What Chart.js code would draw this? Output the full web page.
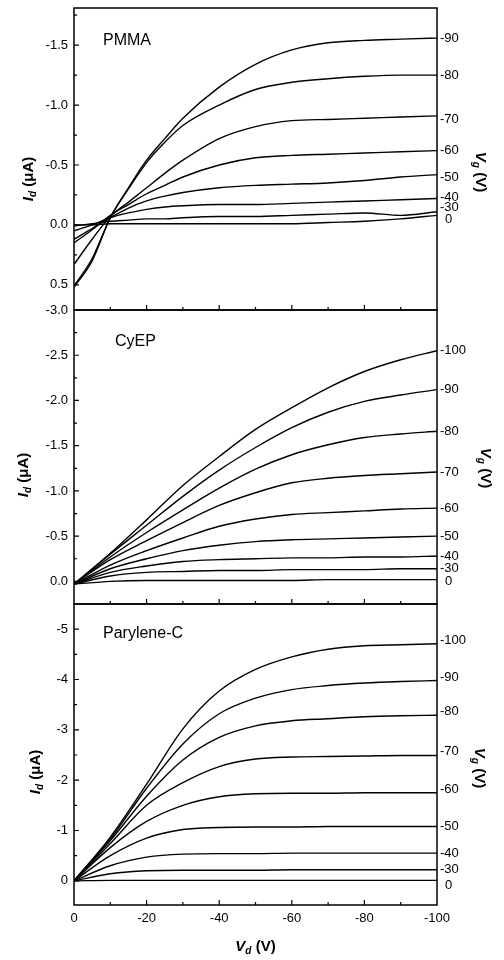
<!DOCTYPE html>
<html>
<head>
<meta charset="utf-8">
<title>Output characteristics: PMMA, CyEP, Parylene-C</title>
<script src="https://cdn.jsdelivr.net/npm/chart.js@4.4.1/dist/chart.umd.min.js"></script>
<style>
  html, body { margin: 0; padding: 0; background: #fff; }
  #wrap { width: 504px; height: 960px; }
</style>
</head>
<body>
<div id="wrap"><canvas id="chart" width="504" height="960"></canvas></div>
<script>
// drain voltage sweep (V)
const vdPmma = [0, -5, -10, -15, -20, -25, -30, -40, -50, -60, -70, -80, -90, -100];
const vdSweep = [0, -10, -20, -30, -40, -50, -60, -70, -80, -90, -100];

// tick labels
const xTicks = [0, -20, -40, -60, -80, -100];
const yTicksPmma = [-1.5, -1.0, -0.5, 0.0, 0.5];
const yTicksCyep = [-3.0, -2.5, -2.0, -1.5, -1.0, -0.5, 0.0];
const yTicksParylene = [-5, -4, -3, -2, -1, 0];

// gate voltages (V), lowest curve first
const gatesPmma = ['0', '-30', '-40', '-50', '-60', '-70', '-80', '-90'];
const gatesTen = ['0', '-30', '-40', '-50', '-60', '-70', '-80', '-90', '-100'];

// PMMA drain current (uA), on vdPmma
const pmma0  = [0.00, 0.00, -0.01, -0.01, -0.01, -0.01, -0.01, -0.01, -0.01, -0.01, -0.02, -0.03, -0.05, -0.08];
const pmma30 = [0.01, -0.01, -0.03, -0.04, -0.05, -0.05, -0.06, -0.07, -0.07, -0.08, -0.09, -0.10, -0.08, -0.11];
const pmma40 = [0.05, 0.00, -0.06, -0.10, -0.13, -0.15, -0.16, -0.17, -0.17, -0.18, -0.19, -0.20, -0.21, -0.22];
const pmma50 = [0.12, 0.03, -0.06, -0.14, -0.20, -0.24, -0.27, -0.31, -0.33, -0.34, -0.35, -0.37, -0.40, -0.42];
const pmma60 = [0.15, 0.04, -0.08, -0.17, -0.26, -0.33, -0.40, -0.50, -0.56, -0.58, -0.59, -0.60, -0.61, -0.62];
const pmma70 = [0.33, 0.12, -0.07, -0.19, -0.31, -0.43, -0.54, -0.72, -0.82, -0.87, -0.88, -0.89, -0.90, -0.91];
const pmma80 = [0.51, 0.28, -0.06, -0.30, -0.52, -0.69, -0.83, -1.00, -1.13, -1.19, -1.22, -1.24, -1.25, -1.25];
const pmma90 = [0.52, 0.30, -0.06, -0.31, -0.54, -0.72, -0.89, -1.15, -1.34, -1.46, -1.52, -1.54, -1.55, -1.56];

// CyEP drain current (uA), on vdSweep
const cyep0   = [0.03, 0.00, -0.01, -0.01, -0.01, -0.01, -0.01, -0.02, -0.02, -0.02, -0.02];
const cyep30  = [0.03, -0.06, -0.10, -0.11, -0.12, -0.12, -0.13, -0.13, -0.13, -0.14, -0.14];
const cyep40  = [0.03, -0.10, -0.17, -0.22, -0.24, -0.25, -0.26, -0.26, -0.27, -0.27, -0.28];
const cyep50  = [0.03, -0.14, -0.25, -0.34, -0.40, -0.44, -0.46, -0.47, -0.48, -0.49, -0.50];
const cyep60  = [0.03, -0.18, -0.34, -0.48, -0.61, -0.69, -0.74, -0.76, -0.78, -0.80, -0.81];
const cyep70  = [0.03, -0.24, -0.45, -0.65, -0.84, -0.98, -1.09, -1.14, -1.17, -1.19, -1.21];
const cyep80  = [0.03, -0.27, -0.54, -0.79, -1.03, -1.24, -1.40, -1.51, -1.59, -1.63, -1.66];
const cyep90  = [0.03, -0.30, -0.62, -0.94, -1.23, -1.48, -1.70, -1.87, -1.99, -2.06, -2.12];
const cyep100 = [0.03, -0.31, -0.68, -1.06, -1.38, -1.68, -1.92, -2.14, -2.32, -2.45, -2.55];

// Parylene-C drain current (uA), on vdSweep
const pary0   = [0, -0.01, -0.01, -0.01, -0.01, -0.01, -0.01, -0.01, -0.01, -0.01, -0.01];
const pary30  = [0, -0.14, -0.20, -0.21, -0.21, -0.21, -0.22, -0.22, -0.22, -0.22, -0.22];
const pary40  = [0, -0.30, -0.47, -0.53, -0.54, -0.54, -0.55, -0.55, -0.55, -0.55, -0.55];
const pary50  = [0, -0.50, -0.85, -1.02, -1.06, -1.07, -1.07, -1.08, -1.08, -1.08, -1.08];
const pary60  = [0, -0.66, -1.18, -1.50, -1.67, -1.73, -1.74, -1.74, -1.75, -1.75, -1.75];
const pary70  = [0, -0.74, -1.50, -1.95, -2.27, -2.42, -2.46, -2.47, -2.48, -2.49, -2.49];
const pary80  = [0, -0.80, -1.68, -2.40, -2.85, -3.08, -3.18, -3.22, -3.26, -3.28, -3.29];
const pary90  = [0, -0.83, -1.84, -2.72, -3.32, -3.63, -3.80, -3.88, -3.93, -3.96, -3.98];
const pary100 = [0, -0.87, -1.92, -3.02, -3.77, -4.20, -4.45, -4.60, -4.67, -4.69, -4.71];

const panels = [
  { id: 'yPmma', name: 'PMMA', vd: vdPmma, gates: gatesPmma, ticks: yTicksPmma, digits: 1,
    min: -1.81, max: 0.71, share: 302, order: 3,
    curves: [pmma0, pmma30, pmma40, pmma50, pmma60, pmma70, pmma80, pmma90] },
  { id: 'yCyep', name: 'CyEP', vd: vdSweep, gates: gatesTen, ticks: yTicksCyep, digits: 1,
    min: -3.0, max: 0.25, share: 294, order: 2,
    curves: [cyep0, cyep30, cyep40, cyep50, cyep60, cyep70, cyep80, cyep90, cyep100] },
  { id: 'yPary', name: 'Parylene-C', vd: vdSweep, gates: gatesTen, ticks: yTicksParylene, digits: 0,
    min: -5.5, max: 0.48, share: 301, order: 1,
    curves: [pary0, pary30, pary40, pary50, pary60, pary70, pary80, pary90, pary100] }
];

// where the annotations go in each panel
const notes = {
  yPmma: { name: [103, 45], idTitle: [28, 179], vgTitle: [481, 172], nudge: { '0': 4, '-30': -4, '-40': -1, '-50': 3, '-70': 4 } },
  yCyep: { name: [115, 346], idTitle: [23, 475], vgTitle: [486, 468], nudge: { '0': 2 } },
  yPary: { name: [103, 638], idTitle: [35, 772], vgTitle: [480, 768], nudge: { '0': 5, '-60': -3, '-70': -4, '-80': -4, '-90': -3, '-100': -3 } }
};

const FONT = '"Liberation Sans", Arial, Helvetica, sans-serif';

const datasets = [];
panels.forEach(p => {
  p.curves.forEach((c, k) => {
    datasets.push({
      label: p.name + ' Vg=' + p.gates[k],
      data: p.vd.map((v, i) => ({ x: v, y: c[i] })),
      yAxisID: p.id,
      borderColor: '#000',
      borderWidth: 1.4,
      pointRadius: 0,
      fill: false,
      cubicInterpolationMode: 'monotone'
    });
  });
});

const noPad = s => { s.paddingTop = 0; s.paddingBottom = 0; s.paddingLeft = 0; s.paddingRight = 0; };

const scales = {
  x: {
    type: 'linear', position: 'bottom', min: -100, max: 0, reverse: true,
    afterBuildTicks: s => { s.ticks = xTicks.map(v => ({ value: v })); },
    afterFit: s => { s.height = 55; noPad(s); },
    grid: { display: false, drawTicks: false },
    border: { display: false },
    ticks: { padding: 6, color: '#000', maxRotation: 0, autoSkip: false, font: { family: FONT, size: 13 } }
  }
};
panels.forEach(p => {
  scales[p.id] = {
    type: 'linear', position: 'left', stack: 'panels', stackWeight: p.share, weight: p.order,
    min: p.min, max: p.max, reverse: true,
    afterBuildTicks: s => { s.ticks = p.ticks.map(v => ({ value: v })); },
    afterFit: s => { s.width = 74; noPad(s); },
    grid: { display: false, drawTicks: false },
    border: { display: false },
    ticks: {
      padding: 6, color: '#000', autoSkip: false,
      font: { family: FONT, size: 13 },
      callback: v => Number(v).toFixed(p.digits)
    }
  };
});

function richText(ctx, parts, cx, cy, angle) {
  ctx.save();
  ctx.translate(cx, cy);
  ctx.rotate(angle);
  ctx.textAlign = 'left';
  ctx.textBaseline = 'alphabetic';
  let w = 0;
  parts.forEach(pt => { ctx.font = pt.font; pt.w = ctx.measureText(pt.t).width; w += pt.w; });
  let x = -w / 2;
  parts.forEach(pt => { ctx.font = pt.font; ctx.fillText(pt.t, x, 5 + (pt.dy || 0)); x += pt.w; });
  ctx.restore();
}

const decor = {
  id: 'decor',
  afterDraw(chart) {
    const ctx = chart.ctx;
    const ca = chart.chartArea;
    const xs = chart.scales.x;
    ctx.save();
    ctx.strokeStyle = '#000';
    ctx.fillStyle = '#000';

    panels.forEach(p => {
      const ys = chart.scales[p.id];
      const n = notes[p.id];

      // frame
      ctx.lineWidth = 1.5;
      ctx.strokeRect(ca.left, ys.top, ca.right - ca.left, ys.bottom - ys.top);

      // inward ticks
      ctx.lineWidth = 1.2;
      ctx.beginPath();
      const step = p.ticks[1] - p.ticks[0];
      p.ticks.forEach(v => {
        const y = ys.getPixelForValue(v);
        ctx.moveTo(ca.left, y); ctx.lineTo(ca.left + 5, y);
      });
      const minors = p.ticks.map(v => v - step / 2).concat([p.ticks[p.ticks.length - 1] + step / 2]);
      minors.forEach(v => {
        if (v <= p.min || v >= p.max) return;
        const y = ys.getPixelForValue(v);
        ctx.moveTo(ca.left, y); ctx.lineTo(ca.left + 3, y);
      });
      for (let v = -10; v > -100; v -= 10) {
        const x = xs.getPixelForValue(v);
        const len = v % 20 === 0 ? 5 : 3;
        ctx.moveTo(x, ys.bottom); ctx.lineTo(x, ys.bottom - len);
      }
      ctx.stroke();

      // panel name
      ctx.font = '16px ' + FONT;
      ctx.textAlign = 'left';
      ctx.textBaseline = 'alphabetic';
      ctx.fillText(p.name, n.name[0], n.name[1]);

      // gate labels at curve ends
      ctx.font = '13px ' + FONT;
      ctx.textBaseline = 'middle';
      p.curves.forEach((c, k) => {
        const g = p.gates[k];
        const y = ys.getPixelForValue(c[c.length - 1]) + (n.nudge[g] || 0);
        ctx.fillText(g, ca.right + (g === '0' ? 8 : 3), y);
      });

      // axis titles
      richText(ctx, [
        { t: 'I', font: 'italic bold 15px ' + FONT },
        { t: 'd', font: 'italic bold 10px ' + FONT, dy: 3 },
        { t: ' (\u03bcA)', font: 'bold 15px ' + FONT }
      ], n.idTitle[0], n.idTitle[1], -Math.PI / 2);
      richText(ctx, [
        { t: 'V', font: 'italic bold 15px ' + FONT },
        { t: 'g', font: 'italic bold 10px ' + FONT, dy: 3 },
        { t: ' (V)', font: 'bold 15px ' + FONT }
      ], n.vgTitle[0], n.vgTitle[1], Math.PI / 2);
    });

    richText(ctx, [
      { t: 'V', font: 'italic bold 15px ' + FONT },
      { t: 'd', font: 'italic bold 10px ' + FONT, dy: 3 },
      { t: ' (V)', font: 'bold 15px ' + FONT }
    ], (ca.left + ca.right) / 2, 946, 0);

    ctx.restore();
  }
};

new Chart(document.getElementById('chart'), {
  type: 'line',
  data: { datasets },
  options: {
    responsive: false,
    animation: false,
    layout: { padding: { top: 8, right: 67, left: 0, bottom: 0 } },
    plugins: { legend: { display: false }, tooltip: { enabled: false } },
    scales
  },
  plugins: [decor]
});
</script>
</body>
</html>
